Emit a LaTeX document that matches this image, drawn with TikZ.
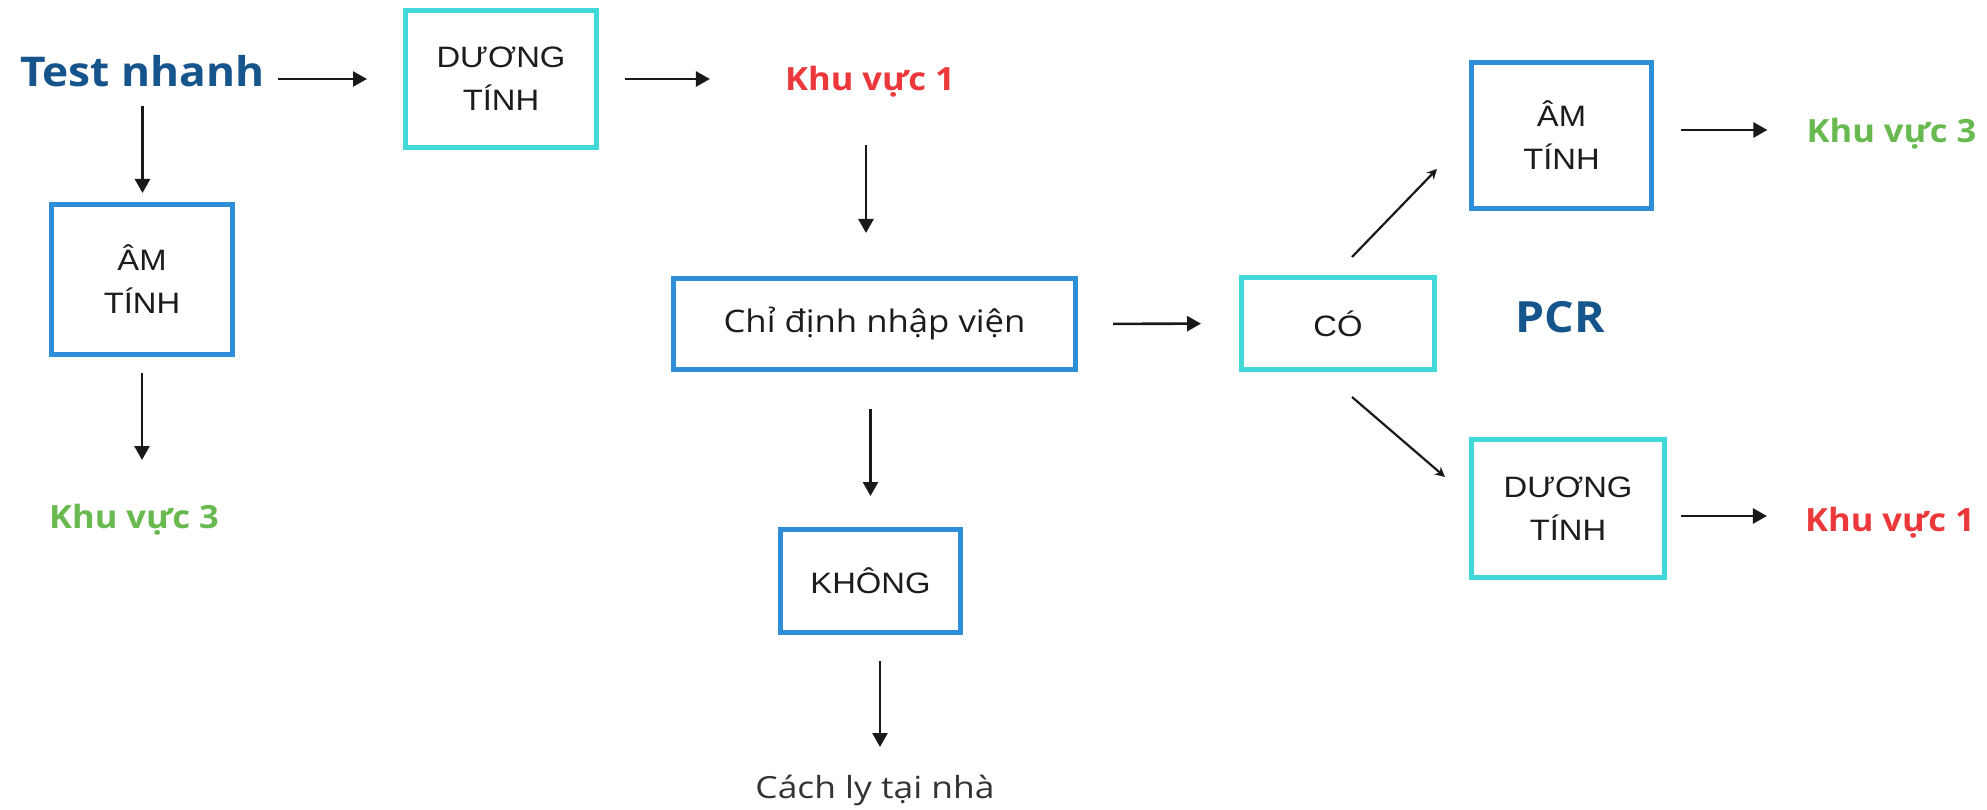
\documentclass[tikz,border=0pt]{standalone}
\usepackage{fontspec}
\usetikzlibrary{arrows.meta}
\newfontfamily\osreg[FakeStretch=1.12]{Open Sans}
\newfontfamily\osregw[FakeStretch=1.16]{Open Sans}
\newfontfamily\osbold[FakeStretch=1.08]{Open Sans}
\newfontfamily\arialf[FakeStretch=1.11]{Liberation Sans}
\definecolor{titleblue}{RGB}{22,84,140}
\definecolor{kvred}{RGB}{236,56,58}
\definecolor{kvgreen}{RGB}{104,186,80}
\definecolor{boxblue}{RGB}{46,143,216}
\definecolor{boxcyan}{RGB}{64,216,216}
\definecolor{txtdark}{RGB}{28,28,28}
\tikzset{
  boxb/.style={draw=boxblue, line width=5pt, fill=white, inner sep=0pt, align=center,
    text=txtdark, font=\arialf\fontsize{29.5}{43}\selectfont},
  boxc/.style={boxb, draw=boxcyan},
  kvtext/.style={inner sep=0pt, anchor=base, font=\osbold\bfseries\fontsize{32}{38}\selectfont},
  bigtext/.style={inner sep=0pt, anchor=base, text=titleblue, font=\osbold\bfseries\fontsize{41}{48}\selectfont},
  arr/.style={line width=2.6pt, draw=black!90, -{Triangle[length=14pt,width=15pt]}},
  darr/.style={line width=2.2pt, draw=black!90, -{Stealth[length=10pt,width=10pt]}}
}
\begin{document}
\begin{tikzpicture}[x=1pt,y=-1pt]
\useasboundingbox (0,0) rectangle (1987,810);
% nodes
\node[bigtext] (test) at (142.5,87) {Test nhanh};
\node[boxc, minimum width=191pt, minimum height=137pt] (duong1) at (501,79) {DƯƠNG\\TÍNH};
\node[kvtext, text=kvred] (kv1a) at (870,91) {Khu vực 1};
\node[boxb, minimum width=181pt, minimum height=150pt] (amL) at (142,279.5) {ÂM\\TÍNH};
\node[kvtext, text=kvgreen] (kv3L) at (134,528) {Khu vực 3};
\node[boxb, minimum width=402pt, minimum height=91pt, font=\osreg\fontsize{31}{38}\selectfont] (chi) at (874.5,324) {Chỉ định nhập viện};
\node[boxc, minimum width=193pt, minimum height=92pt] (co) at (1338,323.5) {CÓ};
\node[bigtext, font=\osbold\bfseries\fontsize{43}{50}\selectfont] (pcr) at (1560,333) {PCR};
\node[boxb, minimum width=180pt, minimum height=146pt] (amR) at (1561.5,135.5) {ÂM\\TÍNH};
\node[kvtext, text=kvgreen] (kv3R) at (1891.5,143) {Khu vực 3};
\node[boxc, minimum width=193pt, minimum height=138pt] (duongR) at (1568,508.5) {DƯƠNG\\TÍNH};
\node[kvtext, text=kvred] (kv1R) at (1890,531) {Khu vực 1};
\node[boxb, minimum width=180pt, minimum height=103pt] (khong) at (870.5,581) {KHÔNG};
\node[inner sep=0pt, anchor=base, text=black!80, font=\osregw\fontsize{30.5}{36}\selectfont] (cach) at (875,798) {Cách ly tại nhà};
% connectors
\draw[arr, shorten <=13pt, shorten >=36pt] (test.east |- duong1.west) -- (duong1.west);
\draw[arr, shorten <=26pt, shorten >=75pt] (duong1.east) -- (duong1.east -| kv1a.west);
\draw[arr, shorten <=54pt, shorten >=43pt] ([xshift=-4pt]kv1a.base) -- ([xshift=-4pt]kv1a.base |- chi.north);
\draw[arr, shorten <=35pt, shorten >=38pt] (chi.east) -- (co.west);
\draw[arr, shorten <=19pt, shorten >=9pt] (test.base) -- (test.base |- amL.north);
\draw[arr, shorten <=16pt, shorten >=68pt] (amL.south) -- (amL.south |- kv3L.base);
\draw[arr, shorten <=37pt, shorten >=31pt] (khong.north |- chi.south) -- (khong.north);
\draw[arr, shorten <=26pt, shorten >=51pt] ([xshift=9.5pt]khong.south) -- ([xshift=9.5pt]khong.south |- cach.base);
\draw[darr] ([xshift=14pt,yshift=18pt]co.north) -- ([xshift=-32pt,yshift=-33.5pt]amR.west);
\draw[arr, shorten <=27pt, shorten >=39pt] ([yshift=5.5pt]amR.east) -- ([yshift=5.5pt]amR.east -| kv3R.west);
\draw[darr] ([xshift=14pt,yshift=-25pt]co.south) -- ([xshift=-24pt,yshift=31.5pt]duongR.west);
\draw[arr, shorten <=14pt, shorten >=38pt] ([yshift=-7.5pt]duongR.east) -- ([yshift=-7.5pt]duongR.east -| kv1R.west);
\end{tikzpicture}
\end{document}
